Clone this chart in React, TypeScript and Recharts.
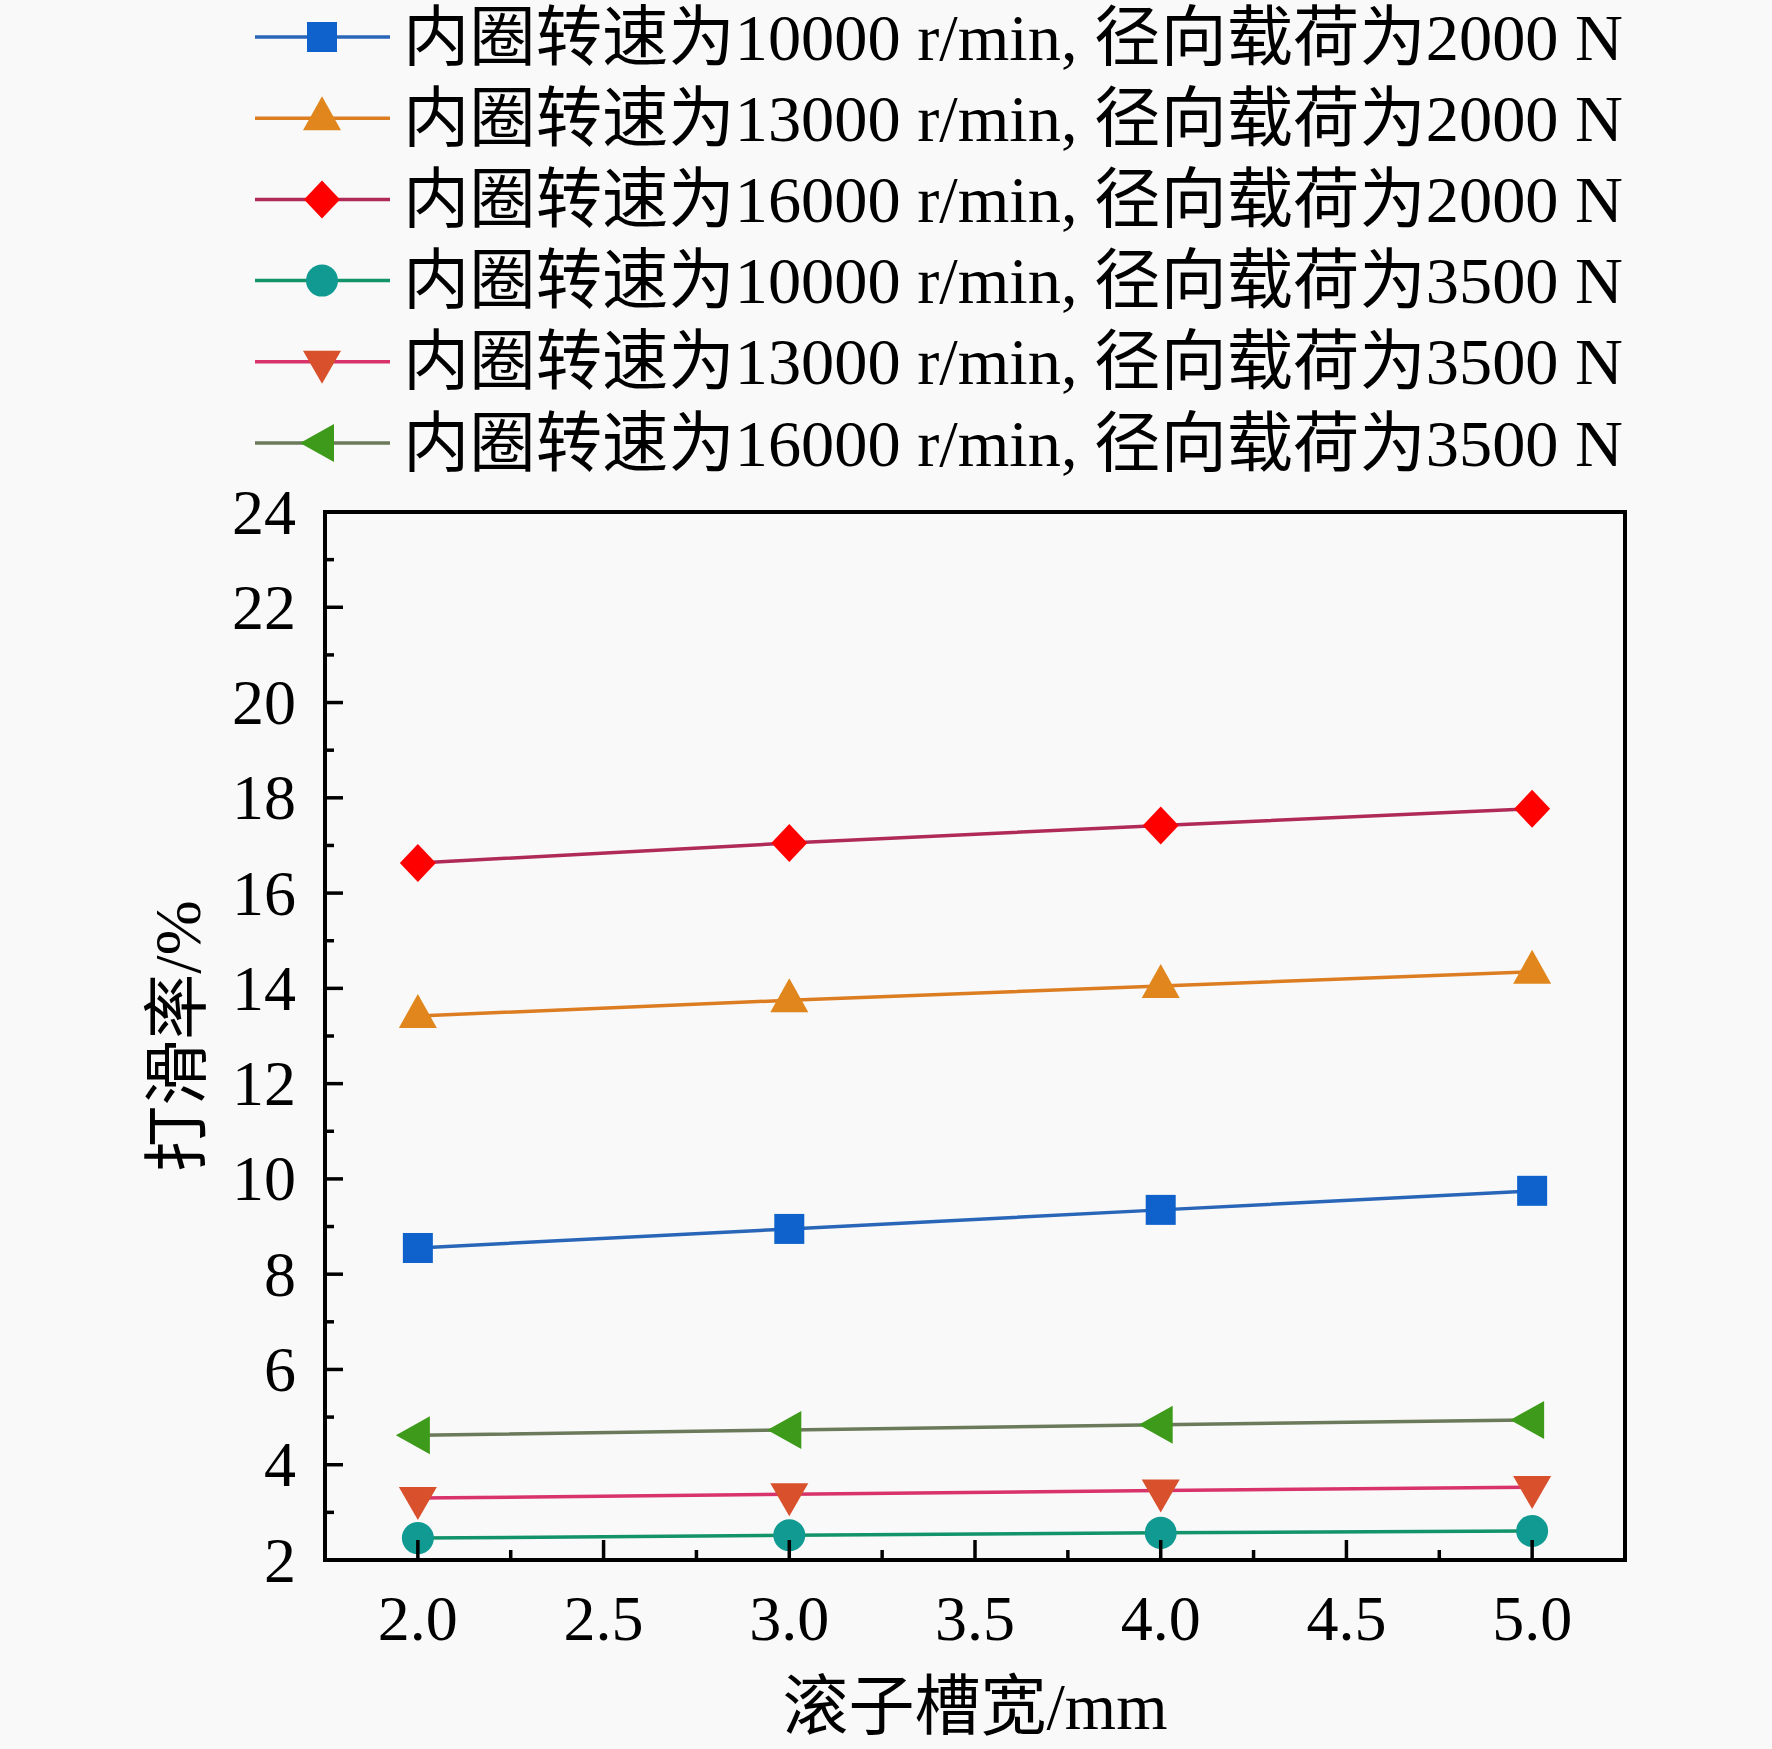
import React from "react";
import { LineChart, Line, XAxis, YAxis, Legend, ReferenceArea } from "recharts";

// 滚子槽宽 (mm)
const grooveWidth = [2.0, 3.0, 4.0, 5.0];

// 打滑率 (%)
const slip10k2000 = [8.55, 8.95, 9.35, 9.75];
const slip13k2000 = [13.42, 13.75, 14.05, 14.35];
const slip16k2000 = [16.63, 17.05, 17.42, 17.77];
const slip10k3500 = [2.46, 2.52, 2.57, 2.61];
const slip13k3500 = [3.3, 3.38, 3.46, 3.53];
const slip16k3500 = [4.62, 4.73, 4.84, 4.94];

const xMajorTicks = [2.0, 2.5, 3.0, 3.5, 4.0, 4.5, 5.0];
const xMinorTicks = [2.25, 2.75, 3.25, 3.75, 4.25, 4.75];
const yMajorTicks = [2, 4, 6, 8, 10, 12, 14, 16, 18, 20, 22, 24];
const yMinorTicks = [3, 5, 7, 9, 11, 13, 15, 17, 19, 21, 23];

const xTitle = "滚子槽宽/mm";
const yTitle = "打滑率/%";

type Shape = "square" | "up" | "diamond" | "circle" | "down" | "left";

const SERIES: {
  key: string;
  name: string;
  values: number[];
  line: string;
  fill: string;
  shape: Shape;
}[] = [
  { key: "a", name: "内圈转速为10000 r/min, 径向载荷为2000 N", values: slip10k2000, line: "#2a66b8", fill: "#0f62cc", shape: "square" },
  { key: "b", name: "内圈转速为13000 r/min, 径向载荷为2000 N", values: slip13k2000, line: "#dc7d22", fill: "#e0861c", shape: "up" },
  { key: "c", name: "内圈转速为16000 r/min, 径向载荷为2000 N", values: slip16k2000, line: "#b02a58", fill: "#ff0000", shape: "diamond" },
  { key: "d", name: "内圈转速为10000 r/min, 径向载荷为3500 N", values: slip10k3500, line: "#12936a", fill: "#109a92", shape: "circle" },
  { key: "e", name: "内圈转速为13000 r/min, 径向载荷为3500 N", values: slip13k3500, line: "#d8336a", fill: "#d9502c", shape: "down" },
  { key: "f", name: "内圈转速为16000 r/min, 径向载荷为3500 N", values: slip16k3500, line: "#6a7a5a", fill: "#3e9a1a", shape: "left" },
];

const data = grooveWidth.map((x, i) => {
  const row: Record<string, number> = { x };
  SERIES.forEach((s) => {
    row[s.key] = s.values[i];
  });
  return row;
});

const FONT = "'Liberation Serif', 'Times New Roman', 'Noto Sans CJK SC', serif";

function marker(shape: Shape, cx: number, cy: number, fill: string, key?: string) {
  switch (shape) {
    case "square":
      return <rect key={key} x={cx - 15} y={cy - 15} width={30} height={30} fill={fill} />;
    case "up":
      return <polygon key={key} points={`${cx},${cy - 22} ${cx - 19},${cy + 12} ${cx + 19},${cy + 12}`} fill={fill} />;
    case "diamond":
      return <polygon key={key} points={`${cx},${cy - 19} ${cx + 18},${cy} ${cx},${cy + 19} ${cx - 18},${cy}`} fill={fill} />;
    case "circle":
      return <circle key={key} cx={cx} cy={cy} r={16} fill={fill} />;
    case "down":
      return <polygon key={key} points={`${cx},${cy + 22} ${cx - 19},${cy - 11} ${cx + 19},${cy - 11}`} fill={fill} />;
    case "left":
      return <polygon key={key} points={`${cx - 22},${cy} ${cx + 12},${cy - 19} ${cx + 12},${cy + 19}`} fill={fill} />;
  }
}

const renderDot = (s: (typeof SERIES)[number]) => (p: any) => {
  if (p.cx == null || p.cy == null) return <g key={`${s.key}-${p.index}`} />;
  return marker(s.shape, p.cx, p.cy, s.fill, `${s.key}-${p.index}`);
};

const XTick = (props: any) => {
  const { x, y, payload } = props;
  const major = xMajorTicks.includes(payload.value);
  return (
    <g>
      <line x1={x} x2={x} y1={y} y2={y - (major ? 20 : 10)} stroke="#000" strokeWidth={3.5} />
      {major && (
        <text x={x} y={y + 58} textAnchor="middle" dominantBaseline="central" fontSize={64} fontFamily={FONT} fill="#000">
          {payload.value.toFixed(1)}
        </text>
      )}
    </g>
  );
};

const YTick = (props: any) => {
  const { x, y, payload } = props;
  const major = yMajorTicks.includes(payload.value);
  return (
    <g>
      <line x1={x} x2={x + (major ? 18 : 9)} y1={y} y2={y} stroke="#000" strokeWidth={3.5} />
      {major && (
        <text x={x - 29} y={y} textAnchor="end" dominantBaseline="central" fontSize={64} fontFamily={FONT} fill="#000">
          {payload.value}
        </text>
      )}
    </g>
  );
};

const XTitle = (props: any) => {
  const vb = props.viewBox;
  return (
    <text x={vb.x + vb.width / 2} y={vb.y + 146} textAnchor="middle" dominantBaseline="central" fontSize={66} fontFamily={FONT} fill="#000">
      {xTitle}
    </text>
  );
};

const YTitle = (props: any) => {
  const vb = props.viewBox;
  const cx = vb.x + vb.width / 2;
  const cy = vb.y + vb.height / 2;
  return (
    <text x={cx} y={cy} transform={`rotate(-90, ${cx}, ${cy})`} textAnchor="middle" dominantBaseline="central" fontSize={66} fontFamily={FONT} fill="#000">
      {yTitle}
    </text>
  );
};

const LegendBox = () => (
  <svg width={1772} height={490} style={{ display: "block" }}>
    {SERIES.map((s, i) => {
      const cy = 37 + i * 81.2;
      return (
        <g key={s.key}>
          <line x1={255} x2={390} y1={cy} y2={cy} stroke={s.line} strokeWidth={3.5} />
          {marker(s.shape, 322, cy, s.fill)}
          <text
            x={403}
            y={cy}
            dominantBaseline="central"
            fontSize={66}
            fontFamily={FONT}
            fill="#000"
            textLength={1220}
            lengthAdjust="spacingAndGlyphs"
          >
            {s.name}
          </text>
        </g>
      );
    })}
  </svg>
);

export default function App() {
  return (
    <div style={{ position: "absolute", left: 0, top: 0, width: 1772, height: 1749, background: "#f9f9f9" }}>
      <LineChart width={1772} height={1749} data={data} margin={{ top: 512, right: 147, bottom: 0, left: 29 }}>
        <Legend
          layout="vertical"
          align="center"
          verticalAlign="middle"
          wrapperStyle={{ top: 0, left: 0, width: 1772 }}
          content={() => <LegendBox />}
        />
        <XAxis
          dataKey="x"
          type="number"
          domain={[1.75, 5.25]}
          ticks={[...xMajorTicks, ...xMinorTicks].sort((a, b) => a - b)}
          interval={0}
          height={189}
          tickSize={0}
          tickMargin={0}
          tickLine={false}
          axisLine={false}
          tick={<XTick />}
          label={<XTitle />}
          allowDataOverflow
        />
        <YAxis
          type="number"
          domain={[2, 24]}
          ticks={[...yMajorTicks, ...yMinorTicks].sort((a, b) => a - b)}
          interval={0}
          width={296}
          tickSize={0}
          tickMargin={0}
          tickLine={false}
          axisLine={false}
          tick={<YTick />}
          label={<YTitle />}
          allowDataOverflow
        />
        <ReferenceArea x1={1.75} x2={5.25} y1={2} y2={24} fill="none" stroke="#000" strokeWidth={4} ifOverflow="visible" />
        {SERIES.map((s) => (
          <Line
            key={s.key}
            type="linear"
            dataKey={s.key}
            name={s.name}
            stroke={s.line}
            strokeWidth={3.5}
            dot={renderDot(s)}
            activeDot={false}
            isAnimationActive={false}
          />
        ))}
      </LineChart>
    </div>
  );
}
